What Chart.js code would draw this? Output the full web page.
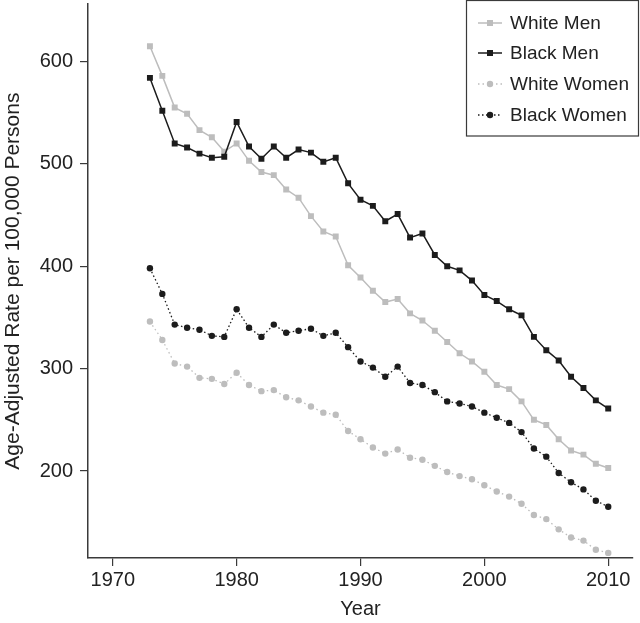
<!DOCTYPE html>
<html>
<head>
<meta charset="utf-8">
<script src="https://cdn.jsdelivr.net/npm/chart.js@4"></script>
<style>
  body { margin: 0; background: #fff; }
  #wrap { width: 640px; height: 623px; }
</style>
</head>
<body>
<div id="wrap"><canvas id="rateChart"></canvas></div>
<script>
const years = [1973, 1974, 1975, 1976, 1977, 1978, 1979, 1980, 1981, 1982, 1983, 1984, 1985,
    1986, 1987, 1988, 1989, 1990, 1991, 1992, 1993, 1994, 1995, 1996, 1997, 1998,
    1999, 2000, 2001, 2002, 2003, 2004, 2005, 2006, 2007, 2008, 2009, 2010];

const whiteMen = [615, 586, 555, 549, 533, 526, 512, 520, 503, 492, 489, 475, 467,
    449, 434, 429, 401, 389, 376, 365, 368, 354, 347, 337, 326, 315,
    307, 297, 284, 280, 268, 250, 245, 231, 220, 216, 207, 203];
const blackMen = [584, 552, 520, 516, 510, 506, 507, 541, 517, 505, 517, 506, 514,
    511, 502, 506, 481, 465, 459, 444, 451, 428, 432, 411, 400, 396,
    386, 372, 366, 358, 352, 331, 318, 308, 292, 281, 269, 261];
const whiteWomen = [346, 328, 305, 302, 291, 290, 285, 296, 284, 278, 279, 272, 269,
    263, 257, 255, 239, 231, 223, 217, 221, 213, 211, 205, 199, 195,
    192, 186, 180, 175, 168, 157, 153, 143, 135, 132, 123, 120];
const blackWomen = [398, 373, 343, 340, 338, 332, 331, 358, 340, 331, 343, 335, 337,
    339, 332, 335, 321, 307, 301, 292, 302, 286, 284, 277, 268, 266,
    263, 257, 252, 247, 238, 222, 214, 198, 189, 182, 171, 165];

const xTicks = [1970, 1980, 1990, 2000, 2010];
const yTicks = [200, 300, 400, 500, 600];

const grey = '#bdbdbd';
const black = '#1c1c1c';
const axisColor = '#3a3a3a';
const fontFamily = '"Liberation Sans", Arial, Helvetica, sans-serif';

const toPoints = (vals) => years.map((yr, i) => ({ x: yr, y: vals[i] }));

// legend drawn by hand: line sample + marker + label in a framed box
const boxLegend = {
    id: 'boxLegend',
    afterDraw(chart) {
        const c = chart.ctx;
        c.save();
        c.strokeStyle = axisColor;
        c.lineWidth = 1.2;
        c.strokeRect(466.5, 0.5, 172, 135.5);
        const rows = [23, 53, 84, 115];
        chart.data.datasets.forEach((ds, i) => {
            const y = rows[i];
            c.strokeStyle = ds.borderColor;
            c.lineWidth = ds.borderWidth;
            c.setLineDash(ds.borderDash || []);
            c.beginPath();
            c.moveTo(478, y);
            c.lineTo(502, y);
            c.stroke();
            c.setLineDash([]);
            c.fillStyle = ds.pointBackgroundColor;
            if (ds.pointStyle === 'rect') {
                c.fillRect(487, y - 3, 6, 6);
            } else {
                c.beginPath();
                c.arc(490, y, 3.2, 0, Math.PI * 2);
                c.fill();
            }
            c.fillStyle = '#222';
            c.font = '19px ' + fontFamily;
            c.textBaseline = 'middle';
            c.fillText(ds.label, 510, y + 1);
        });
        c.restore();
    }
};

const ctx = document.getElementById('rateChart').getContext('2d');

const rateChart = new Chart(ctx, {
    type: 'line',
    data: {
        datasets: [{
            label: 'White Men',
            data: toPoints(whiteMen),
            borderColor: grey,
            backgroundColor: grey,
            pointBackgroundColor: grey,
            pointBorderWidth: 0,
            pointStyle: 'rect',
            pointRadius: 4.2,
            borderWidth: 1.5,
            order: 2
        }, {
            label: 'Black Men',
            data: toPoints(blackMen),
            borderColor: black,
            backgroundColor: black,
            pointBackgroundColor: black,
            pointBorderWidth: 0,
            pointStyle: 'rect',
            pointRadius: 4.2,
            borderWidth: 1.5,
            order: 1
        }, {
            label: 'White Women',
            data: toPoints(whiteWomen),
            borderColor: grey,
            backgroundColor: grey,
            pointBackgroundColor: grey,
            pointBorderWidth: 0,
            pointStyle: 'circle',
            pointRadius: 3.2,
            borderWidth: 1.3,
            borderDash: [1.5, 3],
            order: 2
        }, {
            label: 'Black Women',
            data: toPoints(blackWomen),
            borderColor: black,
            backgroundColor: black,
            pointBackgroundColor: black,
            pointBorderWidth: 0,
            pointStyle: 'circle',
            pointRadius: 3.2,
            borderWidth: 1.3,
            borderDash: [1.5, 2.5],
            order: 1
        }]
    },
    options: {
        responsive: true,
        maintainAspectRatio: false,
        animation: false,
        layout: { padding: { top: 0, right: 7, bottom: 0, left: 0 } },
        scales: {
            x: {
                type: 'linear',
                min: 1968,
                max: 2012,
                afterBuildTicks: (scale) => { scale.ticks = xTicks.map(v => ({ value: v })); },
                afterFit: (scale) => {
                    scale.height = 65;
                    scale.paddingTop = 0;
                    scale.paddingBottom = 0;
                },
                grid: { display: true, drawOnChartArea: false, drawTicks: true, tickLength: 8, color: axisColor, lineWidth: 1.2 },
                border: { display: true, color: axisColor, width: 1.5 },
                ticks: {
                    color: '#222',
                    padding: 2,
                    maxRotation: 0,
                    font: { family: fontFamily, size: 20 },
                    callback: (v) => String(v)
                },
                title: {
                    display: true,
                    text: 'Year',
                    color: '#222',
                    padding: { top: 0, bottom: 2 },
                    font: { family: fontFamily, size: 20 }
                }
            },
            y: {
                min: 115,
                max: 656,
                afterBuildTicks: (scale) => { scale.ticks = yTicks.map(v => ({ value: v })); },
                afterFit: (scale) => {
                    scale.width = 88;
                    scale.paddingTop = 0;
                    scale.paddingBottom = 0;
                },
                grid: { display: true, drawOnChartArea: false, drawTicks: true, tickLength: 8, color: axisColor, lineWidth: 1.2 },
                border: { display: true, color: axisColor, width: 1.5 },
                ticks: {
                    color: '#222',
                    padding: 7,
                    font: { family: fontFamily, size: 20 }
                },
                title: {
                    display: true,
                    text: 'Age-Adjusted Rate per 100,000 Persons',
                    color: '#222',
                    padding: { top: 1, bottom: 0 },
                    font: { family: fontFamily, size: 21 }
                }
            }
        },
        plugins: {
            legend: { display: false },
            tooltip: { enabled: false }
        }
    },
    plugins: [boxLegend]
});
</script>
</body>
</html>
